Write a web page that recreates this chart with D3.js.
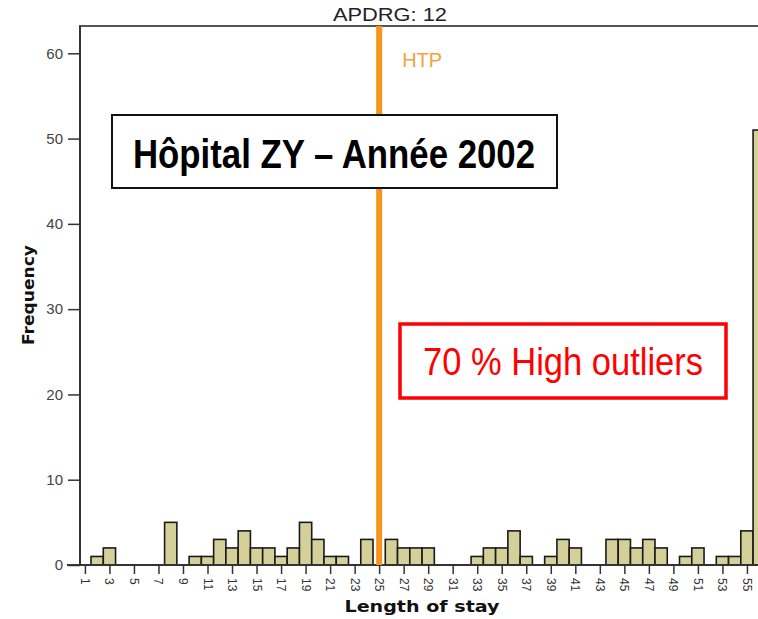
<!DOCTYPE html>
<html><head><meta charset="utf-8">
<script src="https://cdn.jsdelivr.net/npm/d3@7"></script>
<style>html,body{margin:0;padding:0;background:#fff;overflow:hidden}svg{display:block}</style>
</head><body>
<script>
const lengthOfStay = [1,2,3,4,5,6,7,8,9,10,11,12,13,14,15,16,17,18,19,20,21,22,23,24,25,26,27,28,29,30,31,32,33,34,35,36,37,38,39,40,41,42,43,44,45,46,47,48,49,50,51,52,53,54,55,56];
const frequency    = [0,1,2,0,0,0,0,5,0,1,1,3,2,4,2,2,1,2,5,3,1,1,0,3,0,3,2,2,2,0,0,0,1,2,2,4,1,0,1,3,2,0,0,3,3,2,3,2,0,1,2,0,1,1,4,51];
const xTickLabels  = [1,3,5,7,9,11,13,15,17,19,21,23,25,27,29,31,33,35,37,39,41,43,45,47,49,51,53,55];
const yTickLabels  = [0,10,20,30,40,50,60];
const htpValue = 25;
const panelTitle = "APDRG: 12";
const hospitalLabel = "Hôpital ZY – Année 2002";
const outlierLabel = "70 % High outliers";

const W = 758, H = 619;
const svg = d3.select("body").append("svg").attr("width", W).attr("height", H);

const x = d3.scaleLinear().domain([0.6, 57]).range([80, 80 + 56.4 * 12.26]);
const y = d3.scaleLinear().domain([0, 63.2]).range([565, 26]);

// bars
svg.append("g").selectAll("rect").data(lengthOfStay.map((v, i) => ({v, f: frequency[i]})).filter(d => d.f > 0))
  .join("rect")
  .attr("x", d => x(d.v - 0.5))
  .attr("width", d => x(d.v + 0.5) - x(d.v - 0.5))
  .attr("y", d => y(d.f))
  .attr("height", d => y(0) - y(d.f))
  .attr("fill", "#d5d09a")
  .attr("stroke", "#1a1a1a")
  .attr("stroke-width", 1.6);

// top frame
svg.append("line").attr("x1", 79).attr("x2", W).attr("y1", 26).attr("y2", 26)
  .attr("stroke", "#555").attr("stroke-width", 2);

// y axis
const yAxis = d3.axisLeft(y).tickValues(yTickLabels).tickSize(12).tickPadding(5).tickSizeOuter(0);
const gy = svg.append("g").attr("transform", "translate(80,0)").call(yAxis);
gy.select(".domain").attr("stroke", "#333").attr("stroke-width", 2).attr("d", `M0,${y.range()[1]}V${y(0)}`);
gy.selectAll(".tick line").attr("stroke", "#333").attr("stroke-width", 1.5);
gy.selectAll(".tick text").attr("font-family", "Arial, 'Liberation Sans', sans-serif").attr("font-size", 15).attr("fill", "#444");

// x axis
const xAxis = d3.axisBottom(x).tickValues(xTickLabels).tickSize(9).tickSizeOuter(0).tickFormat(d3.format("d"));
const gx = svg.append("g").attr("transform", `translate(0,${y(0)})`).call(xAxis);
gx.select(".domain").attr("stroke", "#333").attr("stroke-width", 2).attr("d", `M67,0H${W}`);
gx.selectAll(".tick line").attr("stroke", "#333").attr("stroke-width", 1.5);
gx.selectAll(".tick text")
  .attr("font-family", "Arial, 'Liberation Sans', sans-serif").attr("font-size", 12).attr("fill", "#333")
  .attr("text-anchor", "start").attr("dy", null).attr("y", 0)
  .attr("transform", "translate(-4.5,13) rotate(90)");

// HTP line
svg.append("line").attr("x1", x(htpValue)).attr("x2", x(htpValue)).attr("y1", 26).attr("y2", y(0))
  .attr("stroke", "#f7941d").attr("stroke-width", 6);
svg.append("text").attr("x", x(htpValue) + 23).attr("y", 67).text("HTP")
  .attr("font-family", "Arial, 'Liberation Sans', sans-serif").attr("font-size", 20).attr("fill", "#f8a13a");

// panel title
svg.append("text").attr("x", 390).attr("y", 21).attr("text-anchor", "middle").text(panelTitle)
  .attr("font-family", "Arial, 'Liberation Sans', sans-serif").attr("font-size", 18).attr("fill", "#222")
  .attr("textLength", 114).attr("lengthAdjust", "spacingAndGlyphs");

// axis titles
svg.append("text").attr("x", 422).attr("y", 612).attr("text-anchor", "middle").text("Length of stay")
  .attr("font-family", "'DejaVu Sans', Verdana, sans-serif").attr("font-weight", "bold").attr("font-size", 16).attr("fill", "#111")
  .attr("textLength", 155).attr("lengthAdjust", "spacingAndGlyphs");
svg.append("text").attr("transform", "translate(34,295) rotate(-90)").attr("text-anchor", "middle").text("Frequency")
  .attr("font-family", "'DejaVu Sans', Verdana, sans-serif").attr("font-weight", "bold").attr("font-size", 16).attr("fill", "#111")
  .attr("textLength", 100).attr("lengthAdjust", "spacingAndGlyphs");

// hospital box
svg.append("rect").attr("x", 112).attr("y", 115).attr("width", 445).attr("height", 73)
  .attr("fill", "#fff").attr("stroke", "#111").attr("stroke-width", 2);
svg.append("text").attr("x", 334).attr("y", 168).attr("text-anchor", "middle").text(hospitalLabel)
  .attr("font-family", "'Liberation Sans Narrow', 'Arial Narrow', Arial, sans-serif").attr("font-weight", "bold").attr("font-size", 41).attr("fill", "#000")
  .attr("textLength", 402).attr("lengthAdjust", "spacingAndGlyphs");

// outlier box
svg.append("rect").attr("x", 400).attr("y", 324).attr("width", 326).attr("height", 74)
  .attr("fill", "#fff").attr("stroke", "#ff0000").attr("stroke-width", 3.5);
svg.append("text").attr("x", 563).attr("y", 375).attr("text-anchor", "middle").text(outlierLabel)
  .attr("font-family", "'Liberation Sans Narrow', 'Arial Narrow', Arial, sans-serif").attr("font-size", 39).attr("fill", "#ff0000")
  .attr("textLength", 280).attr("lengthAdjust", "spacingAndGlyphs");
</script>
</body></html>
